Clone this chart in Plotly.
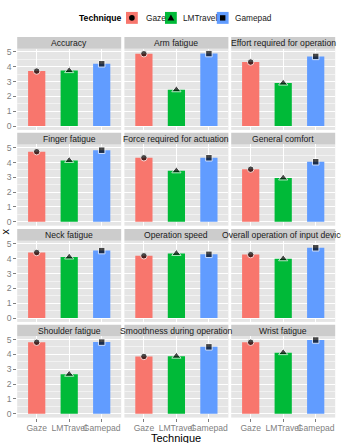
import plotly.graph_objects as go

W, H = 341, 443

techniques = ["Gaze", "LMTravel", "Gamepad"]
colors = ["#F8766D", "#00BA38", "#619CFF"]
symbols = ["circle", "triangle-up", "square"]

facets = ["Accuracy", "Arm fatigue", "Effort required for operation",
          "Finger fatigue", "Force required for actuation", "General comfort",
          "Neck fatigue", "Operation speed", "Overall operation of input device",
          "Shoulder fatigue", "Smoothness during operation", "Wrist fatigue"]

gaze     = [3.71, 4.88, 4.32, 4.73, 4.32, 3.55, 4.42, 4.20, 4.28, 4.82, 3.86, 4.82]
lmtravel = [3.74, 2.45, 2.90, 4.14, 3.44, 2.96, 4.12, 4.36, 4.00, 2.66, 3.88, 4.12]
gamepad  = [4.20, 4.89, 4.70, 4.83, 4.32, 4.05, 4.55, 4.30, 4.74, 4.83, 4.51, 4.97]

yticks = [0, 1, 2, 3, 4, 5]

FONT = "Liberation Sans, Arial, sans-serif"
GREY50 = "#7F7F7F"

col_left = [17.2, 124.4, 231.2]
col_w = 104.0
row_top = [47.0, 143.4, 240.3, 336.6]
row_h = 81.8
strip_h = 11.7

def px(x):
    return x / W

def py(y):
    return 1 - y / H

fig = go.Figure()
layout = dict(width=W, height=H, autosize=False,
              margin=dict(l=0, r=0, t=0, b=0),
              paper_bgcolor="white", plot_bgcolor="#E5E5E5",
              showlegend=False, font=dict(family=FONT))
shapes = []
annotations = []

for i, name in enumerate(facets):
    r, c = divmod(i, 3)
    k = i + 1
    xa = "x" if k == 1 else f"x{k}"
    ya = "y" if k == 1 else f"y{k}"
    vals = [gaze[i], lmtravel[i], gamepad[i]]
    fig.add_trace(go.Bar(x=techniques, y=vals, marker=dict(color=colors, line=dict(width=0)),
                         width=0.53, xaxis=xa, yaxis=ya, hoverinfo="skip"))
    fig.add_trace(go.Scatter(x=techniques, y=vals, mode="markers",
                             marker=dict(symbol=symbols, color="black", size=[6.5, 8, 6.5]),
                             xaxis=xa, yaxis=ya, hoverinfo="skip", cliponaxis=False))
    x0 = px(col_left[c])
    x1 = px(col_left[c] + col_w)
    y1 = py(row_top[r])
    y0 = py(row_top[r] + row_h)
    xkey = "xaxis" if k == 1 else f"xaxis{k}"
    ykey = "yaxis" if k == 1 else f"yaxis{k}"
    layout[xkey] = dict(domain=[x0, x1], anchor=ya, type="category",
                        categoryorder="array", categoryarray=techniques,
                        range=[-0.6, 2.6], showgrid=True, gridcolor="white", gridwidth=1,
                        zeroline=False, showline=False, tickangle=0,
                        showticklabels=(r == 3), ticks="outside" if r == 3 else "",
                        ticklen=3, tickcolor=GREY50, ticklabelstandoff=-1,
                        tickfont=dict(size=8.6, color=GREY50, family=FONT))
    layout[ykey] = dict(domain=[y0, y1], anchor=xa, range=[-0.26, 5.22],
                        tickmode="array", tickvals=yticks, ticktext=[str(v) for v in yticks],
                        showgrid=True, gridcolor="white", gridwidth=1, zeroline=False,
                        minor=dict(tickvals=[0.5, 1.5, 2.5, 3.5, 4.5], showgrid=True,
                                   gridcolor="#F2F2F2", gridwidth=0.6, ticks=""),
                        showticklabels=(c == 0), ticks="outside" if c == 0 else "",
                        ticklen=3, tickcolor=GREY50,
                        tickfont=dict(size=8.6, color=GREY50, family=FONT))
    # strip
    sy0 = py(row_top[r])
    sy1 = py(row_top[r] - strip_h)
    shapes.append(dict(type="rect", xref="paper", yref="paper", x0=x0, x1=x1,
                       y0=sy0, y1=sy1, fillcolor="#CCCCCC", line=dict(width=0), layer="below"))
    annotations.append(dict(text=name, xref="paper", yref="paper",
                            x=(x0 + x1) / 2, y=(sy0 + sy1) / 2, showarrow=False,
                            xanchor="center", yanchor="middle",
                            font=dict(size=8.6, color="#1A1A1A", family=FONT)))

# axis titles
annotations.append(dict(text="Technique", xref="paper", yref="paper",
                        x=px((17.2 + 335.2) / 2), y=py(438.5), showarrow=False,
                        xanchor="center", yanchor="middle",
                        font=dict(size=11, color="black", family=FONT)))
annotations.append(dict(text="x", xref="paper", yref="paper", x=px(5), y=py(231),
                        showarrow=False, textangle=-90, xanchor="center", yanchor="middle",
                        font=dict(size=11, color="black", family=FONT)))

# legend (drawn manually)
annotations.append(dict(text="<b>Technique</b>", xref="paper", yref="paper",
                        x=px(123.5), y=py(16), showarrow=False, xanchor="right",
                        yanchor="middle", font=dict(size=8.6, color="black", family=FONT)))
box_left = [126.0, 165.0, 216.8]
text_left = [143.5, 181.2, 233.0]
for j, t in enumerate(techniques):
    shapes.append(dict(type="rect", xref="paper", yref="paper",
                       x0=px(box_left[j]), x1=px(box_left[j] + 11.8),
                       y0=py(22), y1=py(10), fillcolor=colors[j], line=dict(width=0)))
    annotations.append(dict(text=t, xref="paper", yref="paper", x=px(text_left[j]),
                            y=py(16), showarrow=False, xanchor="left", yanchor="middle",
                            font=dict(size=8.3, color="#1A1A1A", family=FONT)))
    cx, cy = box_left[j] + 5.9, 16.0
    if j == 0:
        shapes.append(dict(type="circle", xref="paper", yref="paper",
                           x0=px(cx - 2.8), x1=px(cx + 2.8), y0=py(cy + 2.8), y1=py(cy - 2.8),
                           fillcolor="black", line=dict(width=0)))
    elif j == 1:
        path = (f"M {px(cx - 3.4)} {py(cy + 2.7)} L {px(cx + 3.4)} {py(cy + 2.7)} "
                f"L {px(cx)} {py(cy - 3.3)} Z")
        shapes.append(dict(type="path", xref="paper", yref="paper", path=path,
                           fillcolor="black", line=dict(width=0)))
    else:
        shapes.append(dict(type="rect", xref="paper", yref="paper",
                           x0=px(cx - 2.7), x1=px(cx + 2.7), y0=py(cy + 2.7), y1=py(cy - 2.7),
                           fillcolor="black", line=dict(width=0)))

layout["shapes"] = shapes
layout["annotations"] = annotations
fig.update_layout(**layout)
fig.write_html("out.html")
